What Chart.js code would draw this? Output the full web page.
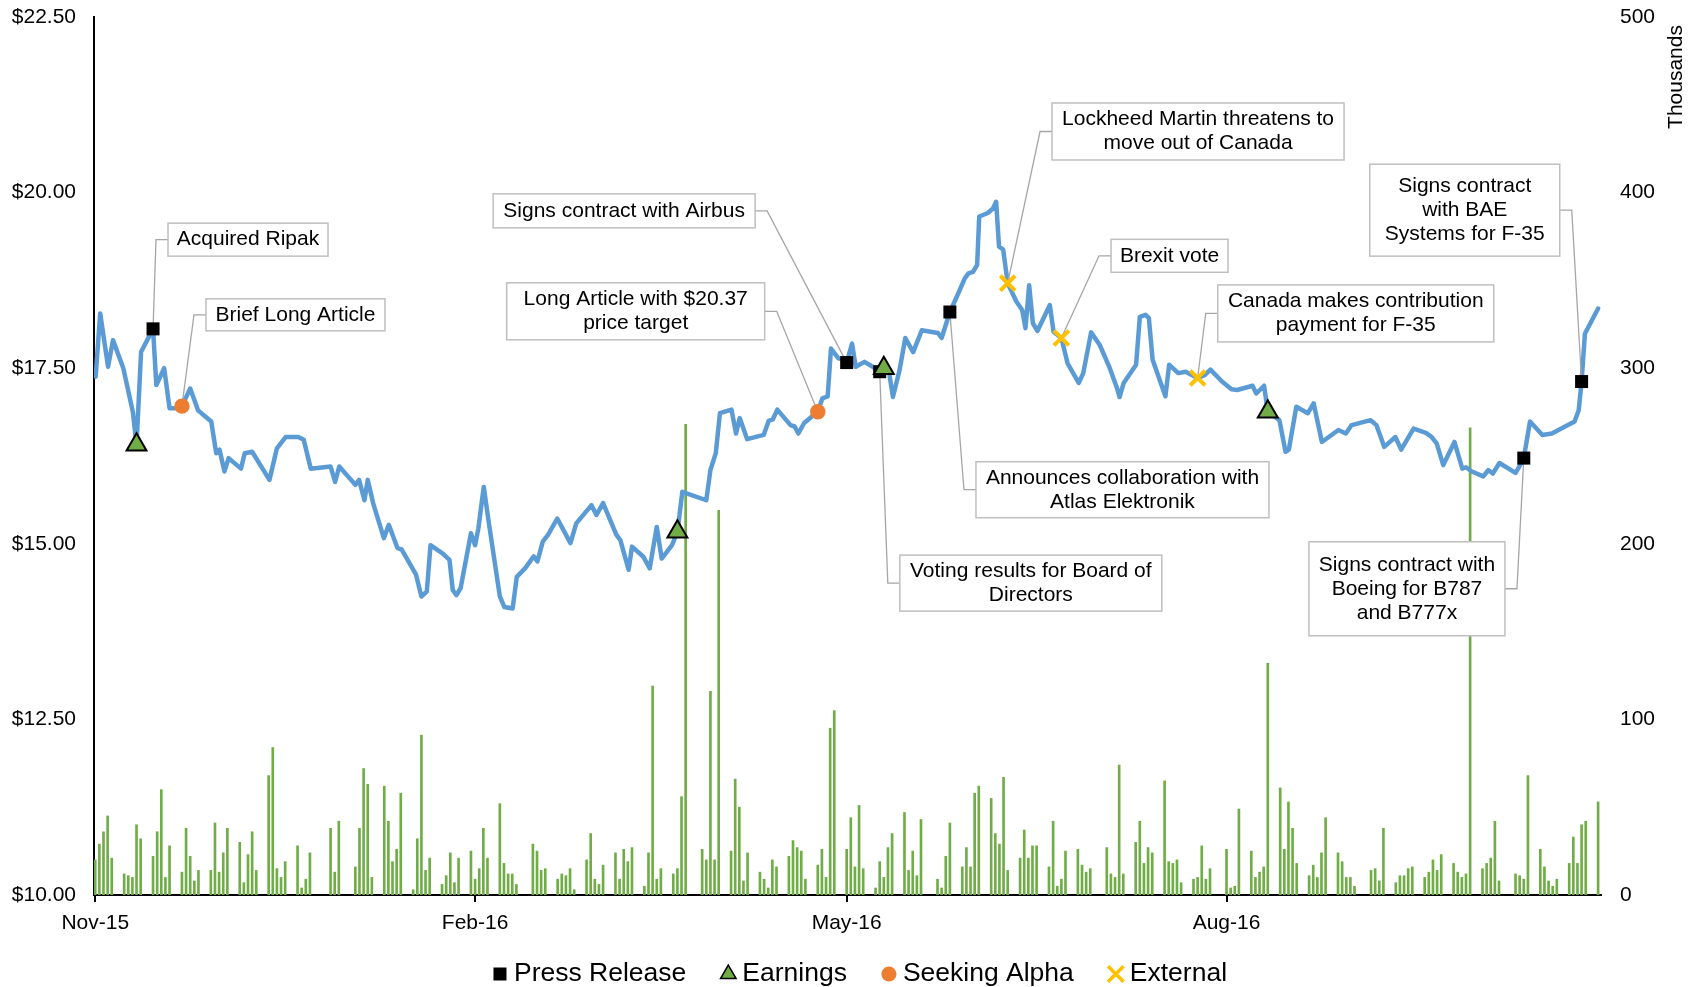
<!DOCTYPE html>
<html>
<head>
<meta charset="utf-8">
<title>Share price, volume and events</title>
<script src="https://cdn.jsdelivr.net/npm/chart.js@4.4.1/dist/chart.umd.min.js"></script>
<style>
  html, body { margin: 0; padding: 0; background: #fff; }
  #wrap { width: 1698px; height: 987px; position: relative; }
</style>
</head>
<body>
<div id="wrap"><canvas id="priceChart"></canvas></div>
<script>
// Trading sessions: 2 Nov 2015 to 31 Oct 2016, x values are calendar days after the first session
const firstSession = '2015-11-02';
const lastSession = '2016-10-31';
const holidays = ['2015-12-25', '2015-12-28', '2016-01-01', '2016-02-15', '2016-03-25',
  '2016-05-23', '2016-07-01', '2016-08-01', '2016-09-05', '2016-10-10'];

// Daily volume in thousands of shares, one value per session (a row per week)
const volume = [
  20, 29, 36, 45, 21,
  12, 11, 10, 40, 32,
  22, 36, 60, 10, 28,
  13, 38, 22, 8, 14,
  14, 41, 13, 24, 38,
  30, 7, 23, 36, 14,
  68, 84, 15, 10, 19,
  28, 4, 9, 24,
  38, 13, 42,
  16, 38, 72, 63, 10,
  62, 42, 19, 26, 58,
  3, 32, 91, 14, 21,
  6, 11, 24, 7, 21,
  25, 9, 15, 38, 21,
  52, 18, 12, 12, 6,
  29, 25, 14, 15,
  9, 12, 11, 15, 3,
  20, 35, 9, 6, 17,
  24, 9, 26, 19, 27,
  5, 24, 119, 9, 15,
  12, 15, 56, 268,
  26, 20, 116, 20, 219,
  25, 66, 50, 8, 24,
  13, 9, 4, 20, 16,
  22, 31, 27, 25, 9,
  17, 26, 10, 95, 105,
  26, 44, 16, 51, 15,
  4, 19, 10, 27, 35,
  47, 14, 25, 11, 43,
  9, 4, 22, 41,
  16, 27, 16, 58, 62,
  55, 35, 29, 67, 14,
  21, 37, 21, 28, 28,
  16, 42, 5, 9, 25,
  26, 17, 13, 15,
  27, 12, 10, 74, 12,
  30, 42, 18, 27, 24,
  65, 19, 18, 20, 7,
  9, 10, 28, 9, 15,
  26, 4, 5, 49,
  25, 10, 13, 16, 132,
  61, 26, 53, 38, 18,
  11, 17, 10, 24, 44,
  24, 19, 10, 10, 5,
  14, 15, 8, 38,
  7, 11, 11, 15, 16,
  10, 13, 20, 14, 23,
  18, 13, 10, 12, 266,
  15, 18, 21, 42, 8,
  12, 11, 9, 68,
  26, 16, 8, 5, 9,
  18, 33, 18, 40, 42,
  53
];

// Closing price, taken at the turns of the line
const priceDay = [
  0.1, 1.2, 3.1, 4.3, 6.8, 9.1, 10, 11.1, 14, 14.8,
  16.7, 18.0, 19.3, 21, 23.0, 24.9, 28.1, 29.3, 30.1, 31.3,
  32.3, 35.3, 36.2, 38.0, 42.2, 44.0, 46.1, 49.2, 50.5, 52.2,
  57.0, 58.1, 59.1, 63.0, 63.9, 65.2, 66.0, 67.3, 69.9, 71.1,
  73.2, 74.2, 77.7, 79.0, 80.3, 81.2, 84.2, 85.8, 86.6, 87.5,
  88.5, 91.0, 92.0, 92.8, 94.1, 95.3, 98.0, 99.1, 101.1, 102.1,
  104.1, 106.2, 107.1, 108.4, 109.7, 111.9, 115.1, 116.5, 120.2, 121.4,
  123.0, 126.2, 127.2, 129.2, 130.0, 132.7, 134.3, 136.0, 137.2, 139.7,
  141, 142.2, 148.0, 149.0, 150.3, 151.3, 154.1, 155.2, 156.1, 157.9,
  161.9, 163.1, 164.1, 165.2, 168.4, 169.4, 170.3, 171.7, 173.5, 175,
  176.1, 177.4, 178.2, 180.0, 181.4, 182, 183.3, 184.2, 186.3, 188.3,
  190, 191, 192.2, 193.2, 194.8, 196.2, 198.1, 200.2, 204.1, 205.0,
  207, 208.7, 210.6, 211.5, 212.6, 213.6, 214.1, 216.2, 217.5, 218.2,
  218.9, 219.9, 221, 223.1, 224.5, 225.3, 226.2, 227.1, 228.2, 231.2,
  232.1, 234, 235.5, 238.2, 239.3, 241.2, 243.3, 245.6, 247.5, 248.1,
  249.1, 252.1, 253.0, 254.4, 255.2, 256.1, 259.2, 260.1, 262.3, 264.1,
  267, 268.7, 270.1, 272.9, 275.2, 276.6, 280.3, 281.2, 283.1, 284,
  286.8, 288.3, 289.1, 290.9, 293.7, 295.1, 297.1, 301.1, 302.9, 304.3,
  308.9, 310.3, 312.2, 314.9, 316.3, 319.3, 322.3, 323.7, 324.9, 326.5,
  329.2, 331.1, 332.0, 333.4, 336.2, 337.4, 338.5, 340.1, 344.0, 344.9,
  346, 347.5, 350.5, 352.8, 358.3, 359.3, 360, 360.8, 364
];
const price = [
  17.38, 18.28, 17.52, 17.90, 17.50, 16.88, 16.41, 17.73, 18.06, 17.26,
  17.50, 16.93, 16.93, 16.96, 17.21, 16.90, 16.74, 16.29, 16.34, 16.03,
  16.22, 16.07, 16.29, 16.31, 15.91, 16.36, 16.52, 16.52, 16.48, 16.07,
  16.10, 15.88, 16.10, 15.84, 15.91, 15.62, 15.91, 15.58, 15.08, 15.27,
  14.94, 14.92, 14.56, 14.25, 14.32, 14.98, 14.86, 14.77, 14.34, 14.27,
  14.37, 15.15, 14.98, 15.22, 15.81, 15.31, 14.25, 14.10, 14.08, 14.53,
  14.65, 14.82, 14.75, 15.03, 15.13, 15.36, 15.01, 15.29, 15.55, 15.41,
  15.58, 15.13, 15.05, 14.63, 14.96, 14.82, 14.65, 15.24, 14.79, 14.98,
  15.17, 15.74, 15.62, 16.05, 16.29, 16.86, 16.91, 16.57, 16.79, 16.49,
  16.55, 16.75, 16.77, 16.91, 16.69, 16.67, 16.57, 16.72, 16.81, 16.88,
  17.07, 17.10, 17.78, 17.64, 17.62, 17.58, 17.85, 17.52, 17.59, 17.52,
  17.45, 17.50, 17.47, 17.09, 17.47, 17.93, 17.73, 18.04, 18.00, 17.93,
  18.30, 18.52, 18.78, 18.85, 18.87, 18.97, 19.66, 19.71, 19.78, 19.87,
  19.23, 19.19, 18.71, 18.45, 18.33, 18.07, 18.68, 18.14, 18.03, 18.40,
  18.02, 17.93, 17.57, 17.29, 17.43, 18.01, 17.83, 17.52, 17.21, 17.09,
  17.29, 17.55, 18.23, 18.26, 18.21, 17.62, 17.10, 17.55, 17.43, 17.45,
  17.36, 17.40, 17.48, 17.31, 17.20, 17.19, 17.25, 17.14, 17.25, 16.88,
  16.76, 16.31, 16.34, 16.95, 16.86, 17.00, 16.45, 16.62, 16.57, 16.69,
  16.76, 16.69, 16.38, 16.52, 16.34, 16.64, 16.58, 16.52, 16.43, 16.12,
  16.45, 16.07, 16.09, 16.03, 15.96, 16.05, 16.00, 16.15, 16.01, 16.10,
  16.22, 16.74, 16.55, 16.57, 16.74, 16.90, 17.31, 17.99, 18.35
];

const monthTicks = [0, 92, 182, 274];
const monthLabels = ['Nov-15', 'Feb-16', 'May-16', 'Aug-16'];

// Events on the price line
const pressDay = [14, 182, 190, 207, 346, 360];
const pressPrice = [18.06, 17.58, 17.45, 18.30, 16.22, 17.31];
const pressNote = [
  'Acquired Ripak',
  'Signs contract with Airbus',
  'Voting results for Board of\nDirectors',
  'Announces collaboration with\nAtlas Elektronik',
  'Signs contract with\nBoeing for B787\nand B777x',
  'Signs contract\nwith BAE\nSystems for F-35'
];
const earningsDay = [10, 141, 191, 284];
const earningsPrice = [16.41, 15.17, 17.50, 16.88];
const alphaDay = [21, 175];
const alphaPrice = [16.96, 16.88];
const alphaNote = ['Brief Long Article', 'Long Article with $20.37\nprice target'];
const externalDay = [221, 234, 267];
const externalPrice = [18.71, 17.93, 17.36];
const externalNote = [
  'Lockheed Martin threatens to\nmove out of Canada',
  'Brexit vote',
  'Canada makes contribution\npayment for F-35'
];

// Note boxes, same order as the notes list below: centre in axis units, size in px
const noteLayout = [
  { day: 37.0, price: 19.33, w: 160, h: 33 },
  { day: 128.1, price: 19.74, w: 262, h: 34 },
  { day: 226.6, price: 14.44, w: 262, h: 56 },
  { day: 248.8, price: 15.77, w: 293, h: 56 },
  { day: 317.7, price: 14.36, w: 196, h: 94 },
  { day: 331.7, price: 19.75, w: 190, h: 92 },
  { day: 48.5, price: 18.26, w: 179, h: 32 },
  { day: 130.9, price: 18.31, w: 258, h: 57 },
  { day: 267.1, price: 20.87, w: 292, h: 57 },
  { day: 260.2, price: 19.10, w: 117, h: 33 },
  { day: 305.3, price: 18.28, w: 276, h: 57 }
];

const FONT = "'Liberation Sans', Arial, sans-serif";
const DAY = 86400000;

function tradingSessions() {
  const start = Date.parse(firstSession + 'T00:00:00Z');
  const end = Date.parse(lastSession + 'T00:00:00Z');
  const days = [];
  for (let t = start; t <= end; t += DAY) {
    const d = new Date(t);
    const wd = d.getUTCDay();
    if (wd === 0 || wd === 6 || holidays.includes(d.toISOString().slice(0, 10))) continue;
    days.push(Math.round((t - start) / DAY));
  }
  return days;
}

const toPoints = (xs, ys) => xs.map((x, i) => ({ x: x, y: ys[i] }));
const sessions = tradingSessions();

const notes = [];
pressNote.forEach((text, i) => notes.push({ text, day: pressDay[i], price: pressPrice[i] }));
alphaNote.forEach((text, i) => notes.push({ text, day: alphaDay[i], price: alphaPrice[i] }));
externalNote.forEach((text, i) => notes.push({ text, day: externalDay[i], price: externalPrice[i] }));

// Vertical axes: fixed width, and no extra room above/below for the end labels
const fixWidth = (w) => (s) => { s.width = w; s.paddingTop = 0; s.paddingBottom = 0; };

// Callout boxes with elbow leaders, the legend and the right axis unit label
const eventNotes = {
  id: 'eventNotes',
  afterDatasetDraw(chart, args) {
    if (chart.data.datasets[args.index].role !== 'price') return;
    const ctx = chart.ctx;
    const xs = chart.scales.x, ys = chart.scales.y;
    ctx.save();
    notes.forEach((n, i) => {
      const box = noteLayout[i];
      const px = xs.getPixelForValue(n.day), py = ys.getPixelForValue(n.price);
      const cx = xs.getPixelForValue(box.day), cy = ys.getPixelForValue(box.price);
      const left = cx - box.w / 2, top = cy - box.h / 2;
      const edge = px < cx ? left : left + box.w;
      const elbow = px < cx ? edge - 12 : edge + 12;

      ctx.beginPath();
      ctx.moveTo(edge, cy);
      ctx.lineTo(elbow, cy);
      ctx.lineTo(px, py);
      ctx.strokeStyle = '#a6a6a6';
      ctx.lineWidth = 1.3;
      ctx.stroke();

      ctx.fillStyle = '#fff';
      ctx.fillRect(left, top, box.w, box.h);
      ctx.strokeStyle = '#bfbfbf';
      ctx.lineWidth = 1.5;
      ctx.strokeRect(left, top, box.w, box.h);

      const lines = n.text.split('\n');
      ctx.fillStyle = '#000';
      ctx.font = '21px ' + FONT;
      ctx.textAlign = 'center';
      ctx.textBaseline = 'middle';
      lines.forEach((t, k) => ctx.fillText(t, cx, cy + (k - (lines.length - 1) / 2) * 24));
    });
    ctx.restore();
  },
  afterDraw(chart) {
    const ctx = chart.ctx;
    ctx.save();

    // legend along the bottom
    const items = chart.data.datasets.filter(d => d.role === 'event');
    ctx.font = '26.5px ' + FONT;
    const markGap = 14, itemGap = 42;
    const widths = items.map(d => ctx.measureText(d.label).width);
    const total = 7 + widths.reduce((s, w) => s + markGap + w, 0) + itemGap * (items.length - 1);
    let x = (chart.width - total) / 2 + 11 + 7;
    const y = chart.height - 13;
    items.forEach((d, i) => {
      ctx.fillStyle = d.pointBackgroundColor;
      ctx.strokeStyle = d.pointBorderColor;
      ctx.lineWidth = d.legendBorder;
      Chart.helpers.drawPoint(ctx, {
        pointStyle: d.pointStyle, radius: d.legendRadius, borderWidth: d.legendBorder, rotation: 0
      }, x, y);
      ctx.fillStyle = '#000';
      ctx.textAlign = 'left';
      ctx.textBaseline = 'middle';
      ctx.fillText(d.label, x + markGap, y);
      x += markGap + widths[i] + itemGap;
    });

    // unit label of the volume axis
    ctx.font = '21px ' + FONT;
    ctx.fillStyle = '#000';
    ctx.textAlign = 'center';
    ctx.textBaseline = 'middle';
    ctx.translate(chart.scales.y2.right - 22, chart.chartArea.top + 60);
    ctx.rotate(-Math.PI / 2);
    ctx.fillText('Thousands', 0, 0);
    ctx.restore();
  }
};

Chart.defaults.font.family = FONT;
Chart.defaults.font.size = 21;
Chart.defaults.color = '#000';

new Chart(document.getElementById('priceChart'), {
  data: {
    datasets: [
      {
        type: 'bar', role: 'volume', label: 'Volume', order: 6,
        data: toPoints(sessions, volume), yAxisID: 'y2',
        backgroundColor: '#70ad47', barThickness: 2, grouped: false
      },
      {
        type: 'line', role: 'price', label: 'Price', order: 5,
        data: toPoints(priceDay, price), yAxisID: 'y',
        borderColor: '#5b9bd5', borderWidth: 4.5, pointRadius: 0, tension: 0,
        borderJoinStyle: 'round', borderCapStyle: 'round'
      },
      {
        type: 'scatter', role: 'event', label: 'Press Release', order: 2,
        data: toPoints(pressDay, pressPrice), yAxisID: 'y',
        pointStyle: 'rect', pointRadius: 9.2, pointBorderWidth: 0,
        pointBackgroundColor: '#000', pointBorderColor: '#000',
        legendRadius: 9.2, legendBorder: 0
      },
      {
        type: 'scatter', role: 'event', label: 'Earnings', order: 1,
        data: toPoints(earningsDay, earningsPrice), yAxisID: 'y',
        pointStyle: 'triangle', pointRadius: 11.5, pointBorderWidth: 2,
        pointBackgroundColor: '#70ad47', pointBorderColor: '#000',
        legendRadius: 9, legendBorder: 1.5
      },
      {
        type: 'scatter', role: 'event', label: 'Seeking Alpha', order: 3,
        data: toPoints(alphaDay, alphaPrice), yAxisID: 'y',
        pointStyle: 'circle', pointRadius: 7.7, pointBorderWidth: 0,
        pointBackgroundColor: '#ed7d31', pointBorderColor: '#ed7d31',
        legendRadius: 7.6, legendBorder: 0
      },
      {
        type: 'scatter', role: 'event', label: 'External', order: 4,
        data: toPoints(externalDay, externalPrice), yAxisID: 'y',
        pointStyle: 'crossRot', pointRadius: 10.5, pointBorderWidth: 4,
        pointBackgroundColor: '#ffc000', pointBorderColor: '#ffc000',
        legendRadius: 11, legendBorder: 3.5
      }
    ]
  },
  options: {
    responsive: true,
    maintainAspectRatio: false,
    animation: false,
    devicePixelRatio: 1,
    events: [],
    layout: { padding: { top: 17, left: 0, right: 0, bottom: 0 } },
    plugins: { legend: { display: false }, tooltip: { enabled: false } },
    scales: {
      x: {
        type: 'linear', min: -0.3, max: 364.7, offset: false,
        afterBuildTicks: (s) => { s.ticks = monthTicks.map(value => ({ value })); },
        afterFit: (s) => { s.height = 92; },
        ticks: {
          autoSkip: false, maxRotation: 0, padding: 9,
          callback: (v) => monthLabels[monthTicks.indexOf(v)]
        },
        grid: { offset: false, drawOnChartArea: false, drawTicks: true, tickLength: 7, color: '#000', lineWidth: 2 },
        border: { display: true, color: '#000', width: 2 }
      },
      y: {
        position: 'left', min: 10, max: 22.5,
        afterFit: fixWidth(94),
        ticks: { stepSize: 2.5, padding: 18, callback: (v) => '$' + v.toFixed(2) },
        grid: { display: false, drawTicks: false },
        border: { display: true, color: '#000', width: 2 }
      },
      y2: {
        position: 'right', min: 0, max: 500,
        afterFit: fixWidth(97),
        ticks: { stepSize: 100, padding: 19 },
        grid: { display: false, drawTicks: false },
        border: { display: false }
      }
    }
  },
  plugins: [eventNotes]
});
</script>
</body>
</html>
